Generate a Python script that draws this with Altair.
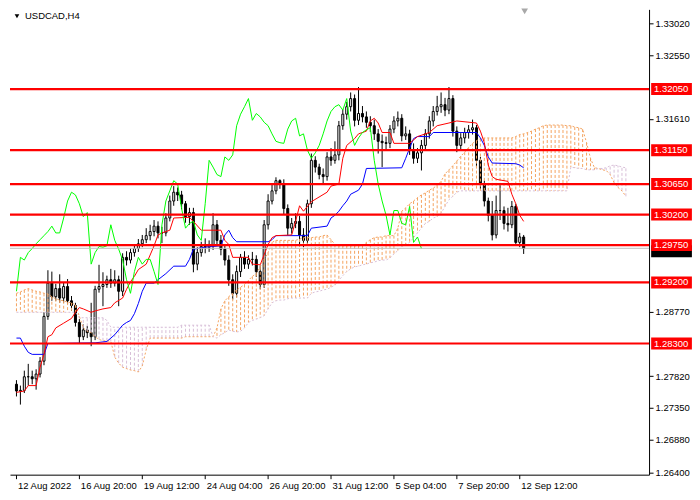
import altair as alt
import pandas as pd

W, H = 640, 466
BAR_MIN, BAR_MAX = -0.375, 159.625
P_MIN, P_MAX = 1.26367, 1.33225
FONT = "Liberation Sans"
FS = 9.5

symbol = "USDCAD,H4"
date_ticks = [0, 16, 32, 48, 64, 80, 96, 112, 128]
date_labels = ["12 Aug 2022", "16 Aug 20:00", "19 Aug 12:00", "24 Aug 04:00", "26 Aug 20:00",
               "31 Aug 12:00", "5 Sep 04:00", "7 Sep 20:00", "12 Sep 12:00"]
price_ticks = [1.33020, 1.32550, 1.31610, 1.28770, 1.27820, 1.27350, 1.26880, 1.26400]
levels = [1.32050, 1.31150, 1.30650, 1.30200, 1.29750, 1.29200, 1.28300]
bid = 1.29703
shift_bar = [129.25]

opens = [1.2770, 1.2760, 1.2761, 1.2781, 1.2781, 1.2778, 1.2785, 1.2804, 1.2870, 1.2919,
         1.2899, 1.2911, 1.2897, 1.2914, 1.2893, 1.2886, 1.2861, 1.2840, 1.2850, 1.2846,
         1.2840, 1.2910, 1.2914, 1.2917, 1.2924, 1.2919, 1.2924, 1.2907, 1.2957, 1.2953,
         1.2964, 1.2970, 1.2977, 1.2983, 1.2989, 1.2995, 1.3003, 1.2993, 1.2993, 1.3015,
         1.3040, 1.3053, 1.3049, 1.3036, 1.3017, 1.3023, 1.2947, 1.2964, 1.2973, 1.2972,
         1.2974, 1.3005, 1.2982, 1.2969, 1.2953, 1.2924, 1.2904, 1.2936, 1.2957, 1.2947,
         1.2954, 1.2954, 1.2936, 1.2917, 1.3005, 1.3040, 1.3055, 1.3070, 1.3065, 1.3029,
         1.3000, 1.3007, 1.3010, 1.2990, 1.2982, 1.3036, 1.3100, 1.3090, 1.3079, 1.3076,
         1.3105, 1.3100, 1.3108, 1.3151, 1.3168, 1.3179, 1.3191, 1.3159, 1.3169, 1.3164,
         1.3156, 1.3151, 1.3139, 1.3128, 1.3126, 1.3125, 1.3146, 1.3158, 1.3162, 1.3136,
         1.3139, 1.3115, 1.3103, 1.3111, 1.3122, 1.3139, 1.3158, 1.3172, 1.3179, 1.3182,
         1.3174, 1.3191, 1.3143, 1.3122, 1.3133, 1.3141, 1.3145, 1.3148, 1.3100, 1.3065,
         1.3040, 1.3019, 1.2990, 1.3026, 1.3026, 1.3007, 1.3005, 1.3032, 1.2979, 1.2987]

highs = [1.2776, 1.2768, 1.2790, 1.2800, 1.2790, 1.2792, 1.2810, 1.2876, 1.2938, 1.2936,
         1.2918, 1.2932, 1.2920, 1.2925, 1.2900, 1.2890, 1.2866, 1.2858, 1.2856, 1.2890,
         1.2915, 1.2946, 1.2935, 1.2930, 1.2940, 1.2938, 1.2930, 1.2963, 1.2966, 1.2970,
         1.2976, 1.2984, 1.2990, 1.3000, 1.3005, 1.3012, 1.3010, 1.3002, 1.3022, 1.3048,
         1.3062, 1.3060, 1.3055, 1.3040, 1.3030, 1.3030, 1.2972, 1.2980, 1.2985, 1.2982,
         1.3022, 1.3012, 1.2990, 1.2975, 1.2960, 1.2932, 1.2945, 1.2962, 1.2966, 1.2960,
         1.2965, 1.2960, 1.2945, 1.3012, 1.3050, 1.3066, 1.3075, 1.3072, 1.3072, 1.3035,
         1.3015, 1.3022, 1.3018, 1.3000, 1.3042, 1.3110, 1.3106, 1.3095, 1.3088, 1.3112,
         1.3118, 1.3128, 1.3158, 1.3175, 1.3186, 1.3200, 1.3197, 1.3208, 1.3180, 1.3172,
         1.3165, 1.3160, 1.3146, 1.3138, 1.3135, 1.3152, 1.3165, 1.3172, 1.3168, 1.3150,
         1.3145, 1.3125, 1.3118, 1.3130, 1.3146, 1.3165, 1.3180, 1.3195, 1.3200, 1.3192,
         1.3208, 1.3196, 1.3150, 1.3140, 1.3148, 1.3152, 1.3160, 1.3152, 1.3105, 1.3070,
         1.3045, 1.3040, 1.3048, 1.3065, 1.3032, 1.3030, 1.3040, 1.3036, 1.2993, 1.2990]

lows = [1.2752, 1.2740, 1.2757, 1.2768, 1.2770, 1.2762, 1.2780, 1.2798, 1.2865, 1.2893,
        1.2893, 1.2890, 1.2890, 1.2888, 1.2878, 1.2855, 1.2830, 1.2835, 1.2838, 1.2826,
        1.2835, 1.2905, 1.2885, 1.2912, 1.2912, 1.2914, 1.2885, 1.2900, 1.2945, 1.2948,
        1.2958, 1.2965, 1.2972, 1.2978, 1.2982, 1.2988, 1.2985, 1.2978, 1.2988, 1.3010,
        1.3033, 1.3040, 1.3028, 1.3008, 1.3005, 1.2935, 1.2938, 1.2958, 1.2963, 1.2965,
        1.2968, 1.2975, 1.2960, 1.2945, 1.2915, 1.2895, 1.2898, 1.2928, 1.2940, 1.2940,
        1.2945, 1.2928, 1.2910, 1.2912, 1.2998, 1.3035, 1.3050, 1.3058, 1.3020, 1.2990,
        1.2992, 1.3000, 1.2975, 1.2972, 1.2975, 1.3030, 1.3082, 1.3072, 1.3066, 1.3070,
        1.3092, 1.3095, 1.3100, 1.3145, 1.3160, 1.3172, 1.3150, 1.3152, 1.3156, 1.3148,
        1.3142, 1.3130, 1.3110, 1.3090, 1.3115, 1.3118, 1.3140, 1.3150, 1.3128, 1.3130,
        1.3108, 1.3095, 1.3096, 1.3085, 1.3115, 1.3132, 1.3150, 1.3166, 1.3170, 1.3165,
        1.3168, 1.3135, 1.3112, 1.3115, 1.3125, 1.3132, 1.3138, 1.3090, 1.3058, 1.3032,
        1.3010, 1.2982, 1.2985, 1.3012, 1.2998, 1.2995, 1.3000, 1.2975, 1.2972, 1.2962]

closes = [1.2760, 1.2761, 1.2781, 1.2781, 1.2778, 1.2785, 1.2804, 1.2870, 1.2919, 1.2899,
          1.2911, 1.2897, 1.2914, 1.2893, 1.2886, 1.2861, 1.2840, 1.2850, 1.2846, 1.2840,
          1.2910, 1.2914, 1.2917, 1.2924, 1.2919, 1.2924, 1.2907, 1.2957, 1.2953, 1.2964,
          1.2970, 1.2977, 1.2983, 1.2989, 1.2995, 1.3003, 1.2993, 1.2993, 1.3015, 1.3040,
          1.3053, 1.3049, 1.3036, 1.3017, 1.3023, 1.2947, 1.2964, 1.2973, 1.2972, 1.2974,
          1.3005, 1.2982, 1.2969, 1.2953, 1.2924, 1.2904, 1.2936, 1.2957, 1.2947, 1.2954,
          1.2954, 1.2936, 1.2917, 1.3005, 1.3040, 1.3055, 1.3070, 1.3065, 1.3029, 1.3000,
          1.3007, 1.3010, 1.2990, 1.2982, 1.3036, 1.3100, 1.3090, 1.3079, 1.3076, 1.3105,
          1.3100, 1.3108, 1.3151, 1.3168, 1.3179, 1.3191, 1.3159, 1.3169, 1.3164, 1.3156,
          1.3151, 1.3139, 1.3128, 1.3126, 1.3125, 1.3146, 1.3158, 1.3162, 1.3136, 1.3139,
          1.3115, 1.3103, 1.3111, 1.3122, 1.3139, 1.3158, 1.3172, 1.3179, 1.3182, 1.3174,
          1.3191, 1.3143, 1.3122, 1.3133, 1.3141, 1.3145, 1.3148, 1.3100, 1.3065, 1.3040,
          1.3019, 1.2990, 1.3026, 1.3026, 1.3007, 1.3005, 1.3032, 1.2979, 1.2987, 1.2970]

span_a = [1.2904, 1.2906, 1.2909, 1.2911, 1.2909, 1.2907, 1.2906, 1.2904, 1.2903, 1.2899,
          1.2896, 1.2894, 1.2893, 1.2891, 1.2890, 1.2887, 1.2870, 1.2853, 1.2848, 1.2846,
          1.2840, 1.2836, 1.2834, 1.2834, 1.2833, 1.2810, 1.2801, 1.2795, 1.2793, 1.2791,
          1.2790, 1.2788, 1.2797, 1.2821, 1.2838, 1.2838, 1.2838, 1.2838, 1.2838, 1.2838,
          1.2838, 1.2838, 1.2838, 1.2840, 1.2840, 1.2840, 1.2840, 1.2840, 1.2840, 1.2840,
          1.2840, 1.2853, 1.2881, 1.2893, 1.2899, 1.2904, 1.2909, 1.2913, 1.2917, 1.2923,
          1.2929, 1.2933, 1.2943, 1.2954, 1.2964, 1.2979, 1.2982, 1.2982, 1.2982, 1.2982,
          1.2982, 1.2982, 1.2984, 1.2986, 1.2986, 1.2986, 1.2987, 1.2987, 1.2989, 1.2990,
          1.2983, 1.2976, 1.2974, 1.2974, 1.2974, 1.2974, 1.2974, 1.2974, 1.2974, 1.2979,
          1.2983, 1.2986, 1.2987, 1.2987, 1.2989, 1.2989, 1.2989, 1.3000, 1.3025, 1.3030,
          1.3036, 1.3040, 1.3045, 1.3049, 1.3052, 1.3056, 1.3059, 1.3063, 1.3069, 1.3080,
          1.3086, 1.3092, 1.3099, 1.3106, 1.3112, 1.3119, 1.3125, 1.3129, 1.3132, 1.3133,
          1.3133, 1.3133, 1.3133, 1.3133, 1.3133, 1.3133, 1.3133, 1.3135, 1.3138, 1.3139,
          1.3141, 1.3143, 1.3146, 1.3148, 1.3151, 1.3152, 1.3152, 1.3152, 1.3152, 1.3152,
          1.3151, 1.3151, 1.3149, 1.3148, 1.3146, 1.3126, 1.3103, 1.3089, 1.3088, 1.3086,
          1.3085, 1.3079, 1.3067, 1.3060, 1.3055, 1.3047]

span_b = ([1.2876] * 16 + [1.2868] * 7 + [1.2864] + [1.2854] * 18 + [1.2857] * 8 +
          [1.2840, 1.2838, 1.2843, 1.2846, 1.2850, 1.2848, 1.2847, 1.2848, 1.2853, 1.2861,
           1.2864, 1.2866, 1.2868, 1.2871, 1.2881, 1.2890, 1.2893, 1.2894, 1.2894, 1.2896] +
          [1.2897] * 5 +
          [1.2904, 1.2906, 1.2907, 1.2909, 1.2910, 1.2913, 1.2916, 1.2923, 1.2930, 1.2936,
           1.2940, 1.2943, 1.2944, 1.2946, 1.2947, 1.2949, 1.2950, 1.2952, 1.2953, 1.2953,
           1.2956, 1.2962, 1.2967, 1.2973, 1.2976, 1.2979, 1.2986, 1.2993, 1.3000, 1.3007,
           1.3010, 1.3015, 1.3017, 1.3022, 1.3032, 1.3042, 1.3047, 1.3053] +
          [1.3055] * 28 +
          [1.3090, 1.3089, 1.3088, 1.3088, 1.3086, 1.3086, 1.3086, 1.3088, 1.3088, 1.3089,
           1.3092, 1.3093, 1.3092, 1.3090, 1.3089])

tenkan_bars = [0, 2, 3, 5, 6, 7, 8, 9, 10, 12, 14, 15, 16, 17, 19, 20, 22, 24, 25, 27,
               28, 29, 30, 31, 33, 35, 36, 37, 39, 40, 44, 45, 47, 52, 53, 54, 55, 59, 60, 62,
               64, 65, 66, 70, 71, 72, 73, 75, 79, 80, 82, 83, 84, 86, 87, 89, 90, 91, 92, 93,
               95, 96, 100, 102, 105, 107, 110, 112, 117, 118, 119, 120, 121, 122, 125, 126, 127, 128, 129]
tenkan_vals = [1.2758, 1.2760, 1.2768, 1.2768, 1.2795, 1.2814, 1.2840, 1.2843, 1.2853, 1.2860,
               1.2867, 1.2876, 1.2883, 1.2881, 1.2876, 1.2878, 1.2881, 1.2883, 1.2890, 1.2897,
               1.2910, 1.2921, 1.2929, 1.2939, 1.2947, 1.2974, 1.2990, 1.2993, 1.2997, 1.3015,
               1.3016, 1.3010, 1.2997, 1.2997, 1.2982, 1.2976, 1.2957, 1.2957, 1.2947, 1.2946,
               1.2976, 1.2986, 1.2989, 1.2990, 1.3010, 1.3033, 1.3025, 1.3039, 1.3053, 1.3062,
               1.3065, 1.3103, 1.3122, 1.3132, 1.3139, 1.3143, 1.3158, 1.3162, 1.3155, 1.3141,
               1.3141, 1.3125, 1.3125, 1.3135, 1.3141, 1.3151, 1.3155, 1.3158, 1.3155, 1.3143,
               1.3126, 1.3093, 1.3076, 1.3072, 1.3069, 1.3050, 1.3036, 1.3019, 1.3010]

kijun_bars = [0, 1, 2, 3, 4, 7, 8, 20, 23, 25, 26, 27, 28, 29, 30, 31, 32, 33, 35, 36,
              38, 40, 43, 44, 45, 48, 52, 53, 54, 55, 56, 64, 65, 66, 74, 75, 79, 80, 81, 82,
              83, 84, 85, 87, 88, 89, 98, 99, 100, 101, 102, 105, 106, 117, 118, 119, 120, 121,
              127, 128, 129]
kijun_vals = [1.2838, 1.2838, 1.2826, 1.2817, 1.2814, 1.2814, 1.2830, 1.2831, 1.2833, 1.2843,
              1.2850, 1.2857, 1.2861, 1.2864, 1.2874, 1.2889, 1.2907, 1.2919, 1.2919, 1.2924,
              1.2933, 1.2944, 1.2944, 1.2954, 1.2969, 1.2972, 1.2974, 1.2990, 1.2997, 1.2986,
              1.2980, 1.2980, 1.2983, 1.2989, 1.2989, 1.3000, 1.3003, 1.3015, 1.3019, 1.3025,
              1.3033, 1.3040, 1.3050, 1.3056, 1.3065, 1.3088, 1.3089, 1.3103, 1.3118, 1.3132,
              1.3135, 1.3135, 1.3141, 1.3141, 1.3133, 1.3122, 1.3105, 1.3096, 1.3095, 1.3093,
              1.3089]

CHIKOU_SHIFT = 26

# ---------- tables ----------
n = len(closes)
candles = pd.DataFrame({"bar": list(range(n)), "open": opens, "high": highs,
                        "low": lows, "close": closes})
candles["fill"] = ["#FFFFFF" if c >= o else "#000000" for o, c in zip(opens, closes)]

cloud = pd.DataFrame({"bar": list(range(len(span_a))), "a": span_a, "b": span_b})
cloud["col"] = ["#F4A460" if a >= b else "#D8BFD8" for a, b in zip(span_a, span_b)]

chikou = pd.DataFrame({"bar": list(range(n - CHIKOU_SHIFT)), "value": closes[CHIKOU_SHIFT:]})
tenkan = pd.DataFrame({"bar": tenkan_bars, "value": tenkan_vals})
kijun = pd.DataFrame({"bar": kijun_bars, "value": kijun_vals})
lv = pd.DataFrame({"price": levels, "label": [f"{v:.5f}" for v in levels]})
bd = pd.DataFrame({"price": [bid], "label": [f"{bid:.5f}"]})
title_df = pd.DataFrame({"t": [symbol]})
shift_df = pd.DataFrame({"bar": shift_bar})

# ---------- scales / axes ----------
xscale = alt.Scale(domain=[BAR_MIN, BAR_MAX], nice=False, zero=False)
yscale = alt.Scale(domain=[P_MIN, P_MAX], nice=False, zero=False)
label_expr = "[" + ",".join(f"'{s}'" for s in date_labels) + "][round(datum.value / 16)]"
xaxis = alt.Axis(values=date_ticks, labelExpr=label_expr, title=None, grid=False,
                 tickSize=4, tickColor="black", domainColor="black", labelColor="black",
                 labelFont=FONT, labelFontSize=FS, labelAlign="left", labelPadding=2,
                 labelOffset=1, labelFlush=False, labelOverlap=False)
yaxis = alt.Axis(orient="right", values=price_ticks, format=".5f", title=None, grid=False,
                 tickSize=4, tickColor="black", domainColor="black", labelColor="black",
                 labelFont=FONT, labelFontSize=FS, labelPadding=2, labelFlush=False,
                 labelOverlap=False, labelBaseline="middle")


def X(f):
    return alt.X(f, type="quantitative", scale=xscale, axis=xaxis)


def Y(f):
    return alt.Y(f, type="quantitative", scale=yscale, axis=yaxis)


LABEL_SHAPE = "M-3.4,-1L3.4,-1L3.4,1L-3.4,1Z"

wicks = alt.Chart(candles).mark_rule(color="black", strokeWidth=1).encode(
    x=X("bar"), y=Y("low"), y2="high")
bodies = alt.Chart(candles).mark_bar(size=2, stroke="black", strokeWidth=1).encode(
    x=X("bar"), y=Y("open"), y2="close", fill=alt.Fill("fill:N", scale=None))
hatch = alt.Chart(cloud).mark_rule(strokeWidth=1, strokeDash=[3, 2]).encode(
    x=X("bar"), y=Y("a"), y2="b", color=alt.Color("col:N", scale=None))
line_a = alt.Chart(cloud).mark_line(color="#F4A460", strokeWidth=1, strokeDash=[2, 2]).encode(
    x=X("bar"), y=Y("a"))
line_b = alt.Chart(cloud).mark_line(color="#D8BFD8", strokeWidth=1, strokeDash=[2, 2]).encode(
    x=X("bar"), y=Y("b"))
kij = alt.Chart(kijun).mark_line(color="#0000FF", strokeWidth=1).encode(x=X("bar"), y=Y("value"))
ten = alt.Chart(tenkan).mark_line(color="#FF0000", strokeWidth=1).encode(x=X("bar"), y=Y("value"))
chi = alt.Chart(chikou).mark_line(color="#00FF00", strokeWidth=1).encode(x=X("bar"), y=Y("value"))

bid_line = alt.Chart(bd).mark_rule(color="#C0C0C0", strokeWidth=1).encode(
    x=alt.value(0), x2=alt.value(W), y=Y("price"))
level_lines = alt.Chart(lv).mark_rule(color="#FF0000", strokeWidth=2.2).encode(
    x=alt.value(0), x2=alt.value(W), y=Y("price"))

bid_box = alt.Chart(bd).mark_point(shape=LABEL_SHAPE, size=144, filled=True, fill="#000000",
                                   strokeWidth=0, opacity=1).encode(
    x=alt.value(W + 22.5), y=Y("price"), yOffset=alt.value(3))
lv_box = alt.Chart(lv).mark_point(shape=LABEL_SHAPE, size=144, filled=True, fill="#FF0000",
                                  strokeWidth=0, opacity=1).encode(
    x=alt.value(W + 22.5), y=Y("price"))
lv_txt = alt.Chart(lv).mark_text(align="left", baseline="middle", font=FONT, fontSize=FS,
                                 color="white").encode(
    x=alt.value(W + 5), y=Y("price"), text="label:N")

title_tri = alt.Chart(title_df).mark_point(shape="triangle-down", filled=True, color="black",
                                           size=22, opacity=1).encode(
    x=alt.value(7), y=alt.value(7))
title_txt = alt.Chart(title_df).mark_text(align="left", baseline="middle", font=FONT,
                                          fontSize=FS, color="black").encode(
    x=alt.value(15), y=alt.value(7), text="t:N")
shift_mark = alt.Chart(shift_df).mark_point(shape="triangle-down", filled=True, color="#A8A8A8",
                                            size=45, opacity=1).encode(
    x=X("bar"), y=alt.value(2))

chart = alt.layer(
    wicks, bodies, hatch, line_a, line_b, kij, ten, chi,
    bid_line, level_lines, bid_box, lv_box, lv_txt,
    title_tri, title_txt, shift_mark,
).properties(width=W, height=H, padding=0, background="white").configure_view(stroke=None)

chart.save("out.html", embed_options={"renderer": "svg", "actions": False})
